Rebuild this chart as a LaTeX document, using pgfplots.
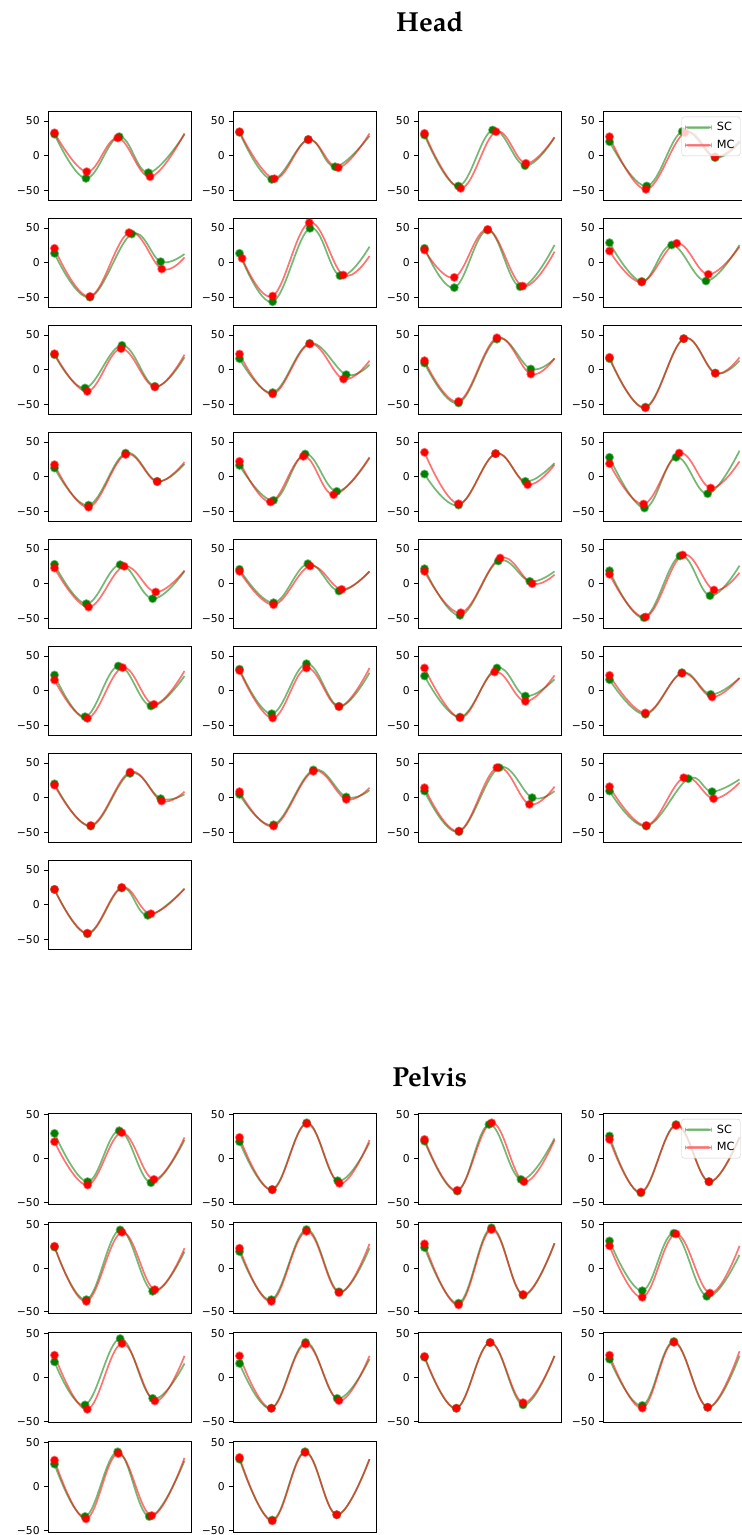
\documentclass[border=0pt]{standalone}
\usepackage{fontspec}
\setmainfont{DejaVu Sans}
\newfontfamily\titlefam{texgyrepagella-bold.otf}
\usepackage{pgfplots}
\pgfplotsset{compat=1.18}

\definecolor{scg}{RGB}{0,128,0}
\definecolor{mcr}{RGB}{255,0,0}
\definecolor{sckeycol}{RGB}{110,180,110}
\definecolor{mckeycol}{RGB}{255,110,110}
\definecolor{legframe}{RGB}{204,204,204}

\newcommand{\titlefont}{\titlefam\fontsize{27.5}{32}\selectfont}
\newcommand{\tickfont}{\fontsize{10.8}{12}\selectfont}
\newcommand{\legfont}{\fontsize{11.3}{13}\selectfont}

\pgfplotsset{
  panel/.style={
    scale only axis, width=143pt,
    xmin=-5, xmax=105, xtick=\empty,
    ytick={-50,0,50}, yticklabels={−50,0,50}, ytick pos=left,
    tick align=outside, major tick length=4pt,
    tick style={black, line width=0.9pt},
    axis line style={black, line width=0.9pt},
    tick label style={font=\tickfont},
    yticklabel style={xshift=-0.8pt},
  },
  headpanel/.style={panel, height=89pt, ymin=-63.9, ymax=64.4},
  pelvpanel/.style={panel, height=90.7pt, ymin=-51.7, ymax=51.8},
  scline/.style={scg, draw opacity=0.55, line width=1.7pt},
  mcline/.style={mcr, draw opacity=0.55, line width=1.7pt},
  sc/.style={scline, smooth, tension=0.65, mark=*, mark indices={1,2,3,4},
    mark size=3.6pt, mark options={draw=none, fill=scg, fill opacity=1}},
  mc/.style={mcline, smooth, tension=0.65, mark=*, mark indices={1,2,3,4},
    mark size=3.6pt, mark options={draw=none, fill=mcr, fill opacity=1}},
  sckey/.style={legend image code/.code={%
    \fill[sckeycol, fill opacity=1] (0pt,-0.9pt) rectangle (26pt,0.9pt);}},
  mckey/.style={legend image code/.code={%
    \fill[mckeycol, fill opacity=1] (0pt,-0.9pt) rectangle (26pt,0.9pt);}},
  withlegend/.style={
    legend style={at={(1,1)}, anchor=north east, xshift=-5.6pt, yshift=-5.6pt,
      draw=legframe, fill=white, fill opacity=0.8, text opacity=1,
      rounded corners=2.5pt, font=\legfont, inner xsep=3.5pt, inner ysep=3.5pt,
      row sep=3.5pt, column sep=3pt, nodes={inner sep=2.2pt}},
    legend cell align=left,
  },
}

% one panel: style, top-left corner, SC curve, MC curve
\newcommand{\panel}[4]{%
  \begin{axis}[#1, at={(#2)}, anchor=north west]
    \addplot[sc] coordinates {#3};
    \addplot[mc] coordinates {#4};
  \end{axis}}

\begin{document}
\begin{tikzpicture}
\path[use as bounding box, fill=white] (0pt,0pt) rectangle (742pt,-1535pt);

\node[anchor=base, font=\titlefont] at (429.7pt,-31.5pt) {Head};
\node[anchor=base, font=\titlefont] at (429.7pt,-1086.7pt) {Pelvis};

% ---------------- Head ----------------
% row 1
\panel{headpanel}{48pt,-111pt}
  {(0,31) (24.2,-32.7) (49.8,27.4) (72.2,-24.5) (100,30.8)}
  {(0,33) (24.8,-23.1) (48.6,25.5) (73.5,-30.3) (100,32.2)}
\panel{headpanel}{233pt,-111pt}
  {(0,33.6) (24.8,-34.2) (52.9,23.5) (73.5,-15.9) (100,28.4)}
  {(0,34.6) (26.8,-33.2) (52.9,23) (76,-17.3) (100,32)}
\panel{headpanel}{418pt,-111pt}
  {(0,29.8) (26,-43.7) (52.4,37) (77.3,-14.4) (100,26)}
  {(0,32.2) (27.8,-47.1) (55,34.6) (78,-11) (100,26.8)}
\begin{axis}[headpanel, withlegend, at={(603pt,-111pt)}, anchor=north west]
  \addplot[sc, forget plot] coordinates {(0,20.2) (28.6,-43.7) (56,35) (81.2,-2.8) (100,19)};
  \addplot[mc, forget plot] coordinates {(0,27.4) (28,-48.5) (58,33.2) (81.2,-1.6) (100,21)};
  \addlegendimage{sckey}\addlegendentry{SC}
  \addlegendimage{mckey}\addlegendentry{MC}
\end{axis}
% row 2
\panel{headpanel}{48pt,-218pt}
  {(0,13.5) (27.3,-49.8) (59.4,41.3) (81.7,1.4) (100,12.5)}
  {(0,20.7) (27.3,-48.6) (57.3,43.3) (82.5,-9.1) (100,7.7)}
\panel{headpanel}{233pt,-218pt}
  {(0,13.5) (25.5,-56.3) (54.2,49.5) (77.3,-18.8) (100,23)}
  {(2,6.3) (25.5,-48.1) (53.7,57.7) (79.8,-17.8) (100,9.6)}
\panel{headpanel}{418pt,-218pt}
  {(0,20.7) (22.9,-36) (48.6,47) (73.5,-34.6) (100,25.5)}
  {(0,18.3) (22.9,-21.2) (48.6,48) (75.5,-33.7) (100,15.9)}
\panel{headpanel}{603pt,-218pt}
  {(0,28.8) (24.8,-27) (47.8,25.5) (74.2,-26.4) (100,25.5)}
  {(0,16.8) (24.8,-28) (51.7,27.9) (76,-16.8) (100,23)}
% row 3
\panel{headpanel}{48pt,-325pt}
  {(0,21.6) (23.5,-26.4) (51.9,35.1) (77.2,-24) (100,17.8)}
  {(0,23) (25.2,-31.3) (51.2,30.3) (77.2,-25) (100,21.6)}
\panel{headpanel}{233pt,-325pt}
  {(0,15.9) (25.5,-33) (54,38) (82.1,-7.2) (100,7.2)}
  {(0,22.6) (25.5,-35) (54,37) (80,-13.5) (100,13)}
\panel{headpanel}{418pt,-325pt}
  {(0,9.6) (26.2,-48) (55.7,44) (81.8,1) (100,16)}
  {(0,13) (26.2,-45.7) (55.7,46) (81.8,-6.3) (100,16.5)}
\panel{headpanel}{603pt,-325pt}
  {(0,15.9) (27.6,-54) (57.1,44.7) (81.4,-4.8) (100,13)}
  {(0,17.8) (27.6,-55) (57.1,44.7) (81.4,-5.3) (100,17.8)}
% row 4
\panel{headpanel}{48pt,-432pt}
  {(0,12.5) (26.2,-41) (54.7,34) (79,-6.7) (100,18.3)}
  {(0,17.3) (26.2,-44) (54.7,32) (79,-7.2) (100,21)}
\panel{headpanel}{233pt,-432pt}
  {(0,16.3) (26.2,-34.1) (50.5,32.7) (74.8,-21.2) (100,27)}
  {(0,22.1) (23.8,-36.5) (49.1,29.3) (72.4,-26) (100,28)}
\panel{headpanel}{418pt,-432pt}
  {(0,3.8) (26.2,-41) (54.7,33.2) (77.6,-6.7) (100,19.7)}
  {(0,35.1) (26.2,-39) (54.7,33.2) (79.3,-11.5) (100,17.3)}
\panel{headpanel}{603pt,-432pt}
  {(0,27.9) (26.9,-45.2) (51.2,27.9) (75.5,-24.5) (100,37.5)}
  {(0,18.8) (26.2,-39.4) (53.6,34.1) (77.9,-16.3) (100,22.1)}
% row 5
\panel{headpanel}{48pt,-539pt}
  {(0,27.9) (24.5,-28.8) (50.5,27.4) (75.5,-21.6) (100,18)}
  {(0,22.6) (26.2,-33.7) (53.6,25) (77.9,-12) (100,19)}
\panel{headpanel}{233pt,-539pt}
  {(0,20.7) (26.2,-27.4) (52.6,28.8) (76.5,-10.6) (100,17.8)}
  {(0,17.8) (26.2,-30.3) (54.3,25.5) (78.6,-8.2) (100,17.8)}
\panel{headpanel}{418pt,-539pt}
  {(0,21.6) (27.3,-45.7) (56.8,32.7) (81,3.4) (100,17.8)}
  {(0,17.8) (27.9,-41.8) (58.2,37) (82.8,0) (100,13)}
\panel{headpanel}{603pt,-539pt}
  {(0,18.7) (26.5,-49) (54.2,39.9) (77.3,-17.3) (100,26)}
  {(0,13.5) (27.8,-48) (56.3,41.4) (80.4,-9.1) (100,15.9)}
% row 6
\panel{headpanel}{48pt,-646pt}
  {(0,22.6) (23.5,-37.5) (49.1,35.6) (74.2,-22.1) (100,21.2)}
  {(0,15.4) (25.3,-39.9) (52.4,33.2) (76.5,-19.7) (100,28.4)}
\panel{headpanel}{233pt,-646pt}
  {(0,31) (24.8,-33.2) (51.5,38.9) (76.5,-22.6) (100,26)}
  {(0,29) (25.5,-39.4) (51.5,32.7) (76.5,-23) (100,32.7)}
\panel{headpanel}{418pt,-646pt}
  {(0,21.2) (27.3,-38) (55.7,32.7) (77.6,-7.7) (100,16.3)}
  {(0,32.7) (27.3,-39) (53.9,26.9) (77.6,-15.4) (100,22.1)}
\panel{headpanel}{603pt,-646pt}
  {(0,15.9) (27.6,-34) (55.7,26) (77.9,-5.3) (100,18.3)}
  {(0,22.1) (27.6,-32) (55.7,25) (78.9,-9.1) (100,18.3)}
% row 7
\panel{headpanel}{48pt,-753pt}
  {(0,20) (27.9,-41) (58.1,35) (81.7,-1.4) (100,4.8)}
  {(0,18) (27.9,-40) (58.1,37) (82.4,-4.8) (100,8.7)}
\panel{headpanel}{233pt,-753pt}
  {(0,4.8) (26.2,-39) (56.8,40) (82.1,1) (100,10.6)}
  {(0,8.7) (26.2,-41) (56.8,38) (82.1,-2.4) (100,14.4)}
\panel{headpanel}{418pt,-753pt}
  {(0,9.6) (26.5,-49) (57.4,43.3) (82.8,0) (100,9.6)}
  {(0,14.4) (26.5,-48) (55.7,43.3) (80.7,-9.6) (100,15.9)}
\panel{headpanel}{603pt,-753pt}
  {(0,9.6) (28.3,-41) (60.6,27.4) (78.9,8.7) (100,26.4)}
  {(0,15.9) (28.3,-40) (57.1,28.8) (80,-1.4) (100,21.6)}
% row 8
\panel{headpanel}{48pt,-860pt}
  {(0,22) (25.3,-42) (51.7,24) (71.7,-15.4) (100,23)}
  {(0,22) (25.3,-41) (51.7,25) (74.2,-13) (100,23)}

% ---------------- Pelvis ----------------
% row 1
\panel{pelvpanel}{48pt,-1113.3pt}
  {(0,28.9) (25.5,-26.2) (49.8,31.9) (74.2,-27.4) (100,21.3)}
  {(0,19.4) (25.5,-30) (51.7,29.7) (76.5,-23.6) (100,24.3)}
\panel{pelvpanel}{233pt,-1113.3pt}
  {(0,19.4) (25.2,-35) (51.7,41) (75.5,-25.1) (100,18.3)}
  {(0,24.3) (25.2,-35.5) (51.7,40) (76.8,-28.1) (100,21.3)}
\panel{pelvpanel}{418pt,-1113.3pt}
  {(0,20) (25.2,-37) (49.6,39.1) (74.2,-23.6) (100,23.2)}
  {(0,22) (25.2,-36) (51.7,41) (76.5,-26.2) (100,21.3)}
\begin{axis}[pelvpanel, withlegend, at={(603pt,-1113.3pt)}, anchor=north west]
  \addplot[sc, forget plot] coordinates {(0,25.9) (24.2,-39) (51.2,39) (76.5,-26.2) (100,24)};
  \addplot[mc, forget plot] coordinates {(0,22) (24.2,-38) (51.2,38) (76.5,-26.2) (100,25)};
  \addlegendimage{sckey}\addlegendentry{SC}
  \addlegendimage{mckey}\addlegendentry{MC}
\end{axis}
% row 2
\panel{pelvpanel}{48pt,-1222.7pt}
  {(0,24) (24.5,-36) (50.5,43.6) (75.5,-26.5) (100,18.9)}
  {(0,25) (24.5,-38) (51.9,40.9) (77.2,-24.6) (100,22.7)}
\panel{pelvpanel}{233pt,-1222.7pt}
  {(0,18.9) (24.5,-36) (51.5,44) (76.5,-27) (100,22.7)}
  {(0,22.7) (24.5,-38) (51.5,42) (76.5,-28) (100,27.7)}
\panel{pelvpanel}{418pt,-1222.7pt}
  {(0,23.5) (26.2,-40) (51.5,46) (75.8,-31) (100,28.4)}
  {(0,27.7) (26.2,-42) (51.5,44) (75.8,-30) (100,28.4)}
\panel{pelvpanel}{603pt,-1222.7pt}
  {(0,31) (25.2,-25.8) (49.5,39.8) (74.8,-32.2) (100,15.2)}
  {(0,25.4) (25.2,-33.3) (51.2,39) (77.2,-28.4) (100,25.4)}
% row 3
\panel{pelvpanel}{48pt,-1332pt}
  {(0,17.8) (23.5,-31.4) (50.5,44.3) (75.5,-23.9) (100,15.9)}
  {(0,25.4) (25.2,-36.4) (51.9,38.6) (77.2,-26.9) (100,24.6)}
\panel{pelvpanel}{233pt,-1332pt}
  {(0,15.9) (24.5,-35.2) (50.8,40) (75.1,-23.9) (100,20.8)}
  {(0,24.6) (24.5,-35.2) (50.8,38) (76.5,-26.5) (100,24.6)}
\panel{pelvpanel}{418pt,-1332pt}
  {(0,23) (24.5,-35.2) (50.5,39.8) (75.8,-31.4) (100,24.6)}
  {(0,24) (24.5,-35.2) (50.5,39.8) (75.8,-28.8) (100,24.6)}
\panel{pelvpanel}{603pt,-1332pt}
  {(0,20.8) (25.2,-32) (49.5,41) (75.5,-34.1) (100,24.6)}
  {(0,25.4) (25.2,-35) (49.5,40) (75.5,-34.1) (100,29.9)}
% row 4
\panel{pelvpanel}{48pt,-1441.3pt}
  {(0,25.8) (23.5,-34) (48.6,39.8) (72.9,-34) (100,29.6)}
  {(0,30.3) (24.2,-36.7) (49.1,37.9) (74.8,-32.9) (100,33)}
\panel{pelvpanel}{233pt,-1441.3pt}
  {(0,31.4) (25.2,-38) (50.4,40) (74.8,-32) (100,31.5)}
  {(0,33.4) (25.2,-39) (50.4,39) (74.8,-32) (100,31.5)}
\end{tikzpicture}
\end{document}
